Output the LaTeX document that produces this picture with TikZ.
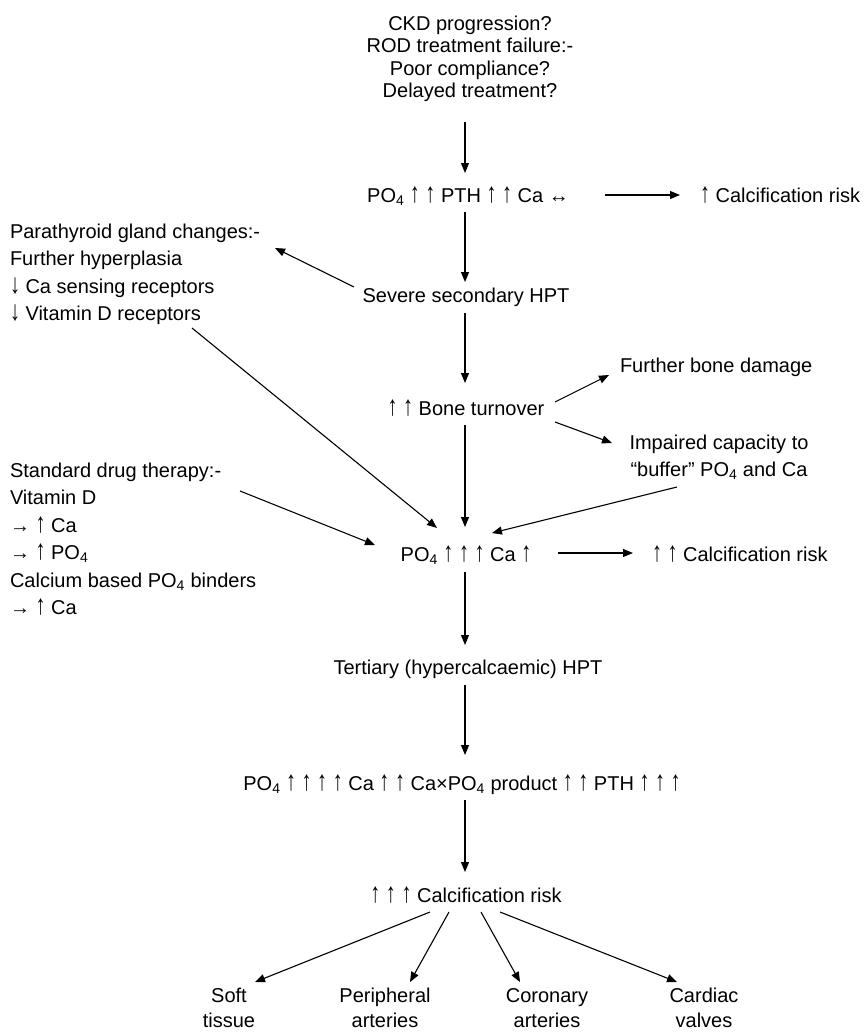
\documentclass[tikz,border=0pt]{standalone}
\usepackage{fontspec}
\setmainfont{Liberation Sans}
\usetikzlibrary{arrows.meta}
\newcommand{\phos}{PO\textsubscript{4}}
% tall thin text arrows
\newcommand{\upar}{\scalebox{1}[1.4]{↑}}
\newcommand{\dnar}{\scalebox{1}[1.4]{↓}}
\newcommand{\blockL}[1]{\begin{tabular}[t]{@{}l@{}}#1\end{tabular}}
\newcommand{\blockC}[1]{\begin{tabular}[t]{@{}c@{}}#1\end{tabular}}
\begin{document}
\begin{tikzpicture}[x=1pt,y=-1pt,
  every node/.style={inner sep=0pt, outer sep=0pt, font=\fontsize{20}{27.5}\selectfont},
  lbl/.style={anchor=base},
  lblw/.style={anchor=base west},
  arr/.style={draw, line width=1.1pt, -{Triangle[length=10pt,width=8pt]}},
]
\useasboundingbox (0,0) rectangle (867,1034);

% causes at the top
\node[lbl, font=\fontsize{20}{22.5}\selectfont] (ckd) at (470,30)
  {\blockC{CKD progression?\\ROD treatment failure:-\\Poor compliance?\\Delayed treatment?}};

% main column
\node[lbl] (row1) at (468,202) {\phos\ \upar\ \upar\ PTH \upar\ \upar\ Ca ↔};
\node[lblw] (risk1) at (700,202) {\upar\ Calcification risk};
\node[lblw] (para) at (10,238)
  {\blockL{Parathyroid gland changes:-\\Further hyperplasia\\\dnar\ Ca sensing receptors\\\dnar\ Vitamin D receptors}};
\node[lbl] (sev) at (466,302) {Severe secondary HPT};
\node[lblw] (dmg) at (620,372) {Further bone damage};
\node[lbl] (bone) at (466,415) {\upar\ \upar\ Bone turnover};
\node[lbl] (buf) at (719,449) {\blockC{Impaired capacity to\\“buffer” \phos\ and Ca}};
\node[lblw] (drug) at (10,477)
  {\blockL{Standard drug therapy:-\\Vitamin D\\→ \upar\ Ca\\→ \upar\ \phos\\Calcium based \phos\ binders\\→ \upar\ Ca}};
\node[lbl] (row2) at (466,561) {\phos\ \upar\ \upar\ \upar\ Ca \upar};
\node[lblw] (risk2) at (652,561) {\upar\ \upar\ Calcification risk};
\node[lbl] (tert) at (468,674) {Tertiary (hypercalcaemic) HPT};
\node[lbl] (row3) at (462,790)
  {\phos\ \upar\ \upar\ \upar\ \upar\ Ca \upar\ \upar\ Ca×\phos\ product \upar\ \upar\ PTH \upar\ \upar\ \upar};
\node[lbl] (risk3) at (466,902) {\upar\ \upar\ \upar\ Calcification risk};

% calcification sites
\begin{scope}[every node/.append style={font=\fontsize{20}{25.5}\selectfont}]
\node[lbl] (soft) at (229,1002) {\blockC{Soft\\tissue}};
\node[lbl] (peri) at (385,1002) {\blockC{Peripheral\\arteries}};
\node[lbl] (coro) at (547,1002) {\blockC{Coronary\\arteries}};
\node[lbl] (card) at (704,1002) {\blockC{Cardiac\\valves}};
\end{scope}

% connectors
\draw[arr] ([shift={(-5,92)}]ckd.base) -- ([shift={(-3,-29)}]row1.base);
\draw[arr] ([shift={(137,-7)}]row1.base) -- ([shift={(-20,-7)}]risk1.base west);
\draw[arr] ([shift={(-3,10)}]row1.base) -- ([shift={(-1,-20)}]sev.base);
\draw[arr] ([shift={(-112,-15)}]sev.base) -- ([shift={(265,10)}]para.base west);
\draw[arr] ([shift={(-1,11)}]sev.base) -- ([shift={(-1,-32)}]bone.base);
\draw[arr] ([shift={(89,-13)}]bone.base) -- ([shift={(-11,3)}]dmg.base west);
\draw[arr] ([shift={(89,7)}]bone.base) -- ([shift={(-107,-6)}]buf.base);
\draw[arr] ([shift={(-1,10)}]bone.base) -- ([shift={(-1,-34)}]row2.base);
\draw[arr] ([shift={(182,90)}]para.base west) -- ([shift={(-29,-33)}]row2.base);
\draw[arr] ([shift={(230,14)}]drug.base west) -- ([shift={(-91,-16)}]row2.base);
\draw[arr] ([shift={(-42,38)}]buf.base) -- ([shift={(26,-28)}]row2.base);
\draw[arr] ([shift={(92,-8)}]row2.base) -- ([shift={(-19,-8)}]risk2.base west);
\draw[arr] ([shift={(-1,11)}]row2.base) -- ([shift={(-3,-29)}]tert.base);
\draw[arr] ([shift={(-3,11)}]tert.base) -- ([shift={(3,-35)}]row3.base);
\draw[arr] ([shift={(3,10)}]row3.base) -- ([shift={(-1,-30)}]risk3.base);
\draw[arr] ([shift={(-36,10)}]risk3.base) -- ([shift={(26,-20)}]soft.base);
\draw[arr] ([shift={(-17,10)}]risk3.base) -- ([shift={(25,-20)}]peri.base);
\draw[arr] ([shift={(15,10)}]risk3.base) -- ([shift={(-27,-20)}]coro.base);
\draw[arr] ([shift={(34,10)}]risk3.base) -- ([shift={(-27,-20)}]card.base);
\end{tikzpicture}
\end{document}
